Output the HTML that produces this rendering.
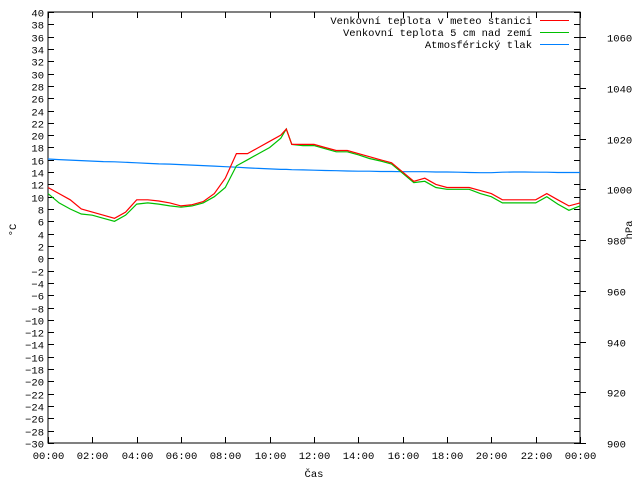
<!DOCTYPE html>
<html><head><meta charset="utf-8"><style>
body{margin:0;background:#fff}
svg{display:block;font-family:"Liberation Mono","DejaVu Sans Mono",monospace;font-size:10.5px}
</style></head><body>
<svg id="chart" width="640" height="480" viewBox="0 0 640 480" xmlns="http://www.w3.org/2000/svg">
<rect width="640" height="480" fill="#fff"/>
<g id="axes"></g>
<g id="series"></g>
<g id="legend"></g>
</svg>
<script>
const hours = [0,0.5,1,1.5,2,2.5,3,3.5,4,4.5,5,5.5,6,6.5,7,7.5,8,8.5,9,9.5,10,10.5,10.75,11,11.5,12,12.5,13,13.5,14,14.5,15,15.5,16,16.5,17,17.5,18,18.5,19,19.5,20,20.5,21,21.5,22,22.5,23,23.5,24];
const tempStation = [11.5,10.5,9.5,8,7.5,7,6.5,7.5,9.5,9.5,9.3,9,8.5,8.7,9.2,10.5,13,17,17,18,19,20,21,18.5,18.5,18.5,18,17.5,17.5,17,16.5,16,15.5,14,12.5,13,12,11.5,11.5,11.5,11,10.5,9.5,9.5,9.5,9.5,10.5,9.5,8.5,9];
const tempGround = [10.5,9,8,7.2,7,6.5,6,7,8.8,9,8.8,8.5,8.3,8.5,9,10,11.5,15,16,17,18,19.5,21,18.5,18.3,18.3,17.8,17.3,17.3,16.8,16.2,15.8,15.3,13.8,12.3,12.5,11.5,11.2,11.2,11.2,10.5,10,9,9,9,9,10,8.8,7.8,8.5];
const pressure = [1012,1011.8,1011.6,1011.4,1011.2,1011,1010.9,1010.7,1010.5,1010.3,1010.1,1010,1009.8,1009.6,1009.4,1009.2,1009,1008.8,1008.5,1008.3,1008.1,1007.9,1007.9,1007.8,1007.7,1007.6,1007.5,1007.4,1007.3,1007.2,1007.2,1007.1,1007.1,1007,1007,1007,1006.9,1006.9,1006.8,1006.7,1006.6,1006.6,1006.8,1006.9,1006.9,1006.8,1006.8,1006.7,1006.7,1006.7];
const yTicks = [-30,-28,-26,-24,-22,-20,-18,-16,-14,-12,-10,-8,-6,-4,-2,0,2,4,6,8,10,12,14,16,18,20,22,24,26,28,30,32,34,36,38,40];
const y2Ticks = [900,920,940,960,980,1000,1020,1040,1060];
const xTicks = ["00:00","02:00","04:00","06:00","08:00","10:00","12:00","14:00","16:00","18:00","20:00","22:00","00:00"];

const X0=48,X1=580,Y0=443,Y1=12;
const xs=h=>X0+(h/24)*(X1-X0);
const ys=t=>Y0-(t+30)/70*(Y0-Y1);
const y2s=p=>Y0-(p-900)/170*(Y0-Y1);
const NS="http://www.w3.org/2000/svg";
function mk(tag,attrs,parent,txt){const e=document.createElementNS(NS,tag);for(const k in attrs)e.setAttribute(k,attrs[k]);if(txt!==undefined)e.textContent=txt;parent.appendChild(e);return e;}
const ax=document.getElementById('axes');
let fr=mk('rect',{x:X0,y:Y1,width:X1-X0,height:Y0-Y1,fill:'none',stroke:'#000','stroke-width':1},ax);


yTicks.forEach(t=>{const y=Math.round(ys(t))+0.5;
 mk('line',{x1:X0,x2:X0+6,y1:y,y2:y,stroke:'#000'},ax);
 mk('line',{x1:X1,x2:X1-6,y1:y,y2:y,stroke:'#000'},ax);
 const l=mk('text',{x:X0-4,y:y+4,'text-anchor':'end'},ax,String(t).replace('-','−'));
 
 
});
y2Ticks.forEach(p=>{const y=Math.round(y2s(p))+0.5;
 mk('line',{x1:X1,x2:X1+6,y1:y,y2:y,stroke:'#000'},ax);
 const l=mk('text',{x:X1+27,y:y+4},ax,String(p));
 
 
});
xTicks.forEach((s,i)=>{const x=Math.round(xs(i*2))+0.5;
 mk('line',{x1:x,x2:x,y1:Y0,y2:Y0-6,stroke:'#000'},ax);
 mk('line',{x1:x,x2:x,y1:Y1,y2:Y1+6,stroke:'#000'},ax);
 const l=mk('text',{x:x,y:Y0+16,'text-anchor':'middle'},ax,s);
 
 
});
let t1=mk('text',{x:314,y:477,'text-anchor':'middle'},ax,'Čas');


let t2=mk('text',{x:0,y:0,transform:'translate(16,230) rotate(-90)','text-anchor':'middle'},ax,'°C');


let t3=mk('text',{x:0,y:0,transform:'translate(632,230) rotate(-90)','text-anchor':'middle'},ax,'hPa');



const se=document.getElementById('series');
function line(vals,f,col,name){const pts=hours.map((h,i)=>xs(h).toFixed(1)+','+f(vals[i]).toFixed(1)).join(' ');
 const p=mk('polyline',{points:pts,fill:'none',stroke:col,'stroke-width':1.2},se);
 
 }
line(pressure,y2s,'#0080ff','pressure-line');
line(tempGround,ys,'#00c000','ground-temp-line');
line(tempStation,ys,'#ff0000','station-temp-line');

const lg=document.getElementById('legend');
[['Venkovní teplota v meteo stanici','#ff0000'],['Venkovní teplota 5 cm nad zemí','#00c000'],['Atmosférický tlak','#0080ff']].forEach((d,i)=>{
 const y=20+i*12;
 const t=mk('text',{x:532,y:y+4,'text-anchor':'end'},lg,d[0]);
 
 
 const l=mk('line',{x1:540,x2:569,y1:y+0.5,y2:y+0.5,stroke:d[1]},lg);
 
 
});
</script>
</body></html>
